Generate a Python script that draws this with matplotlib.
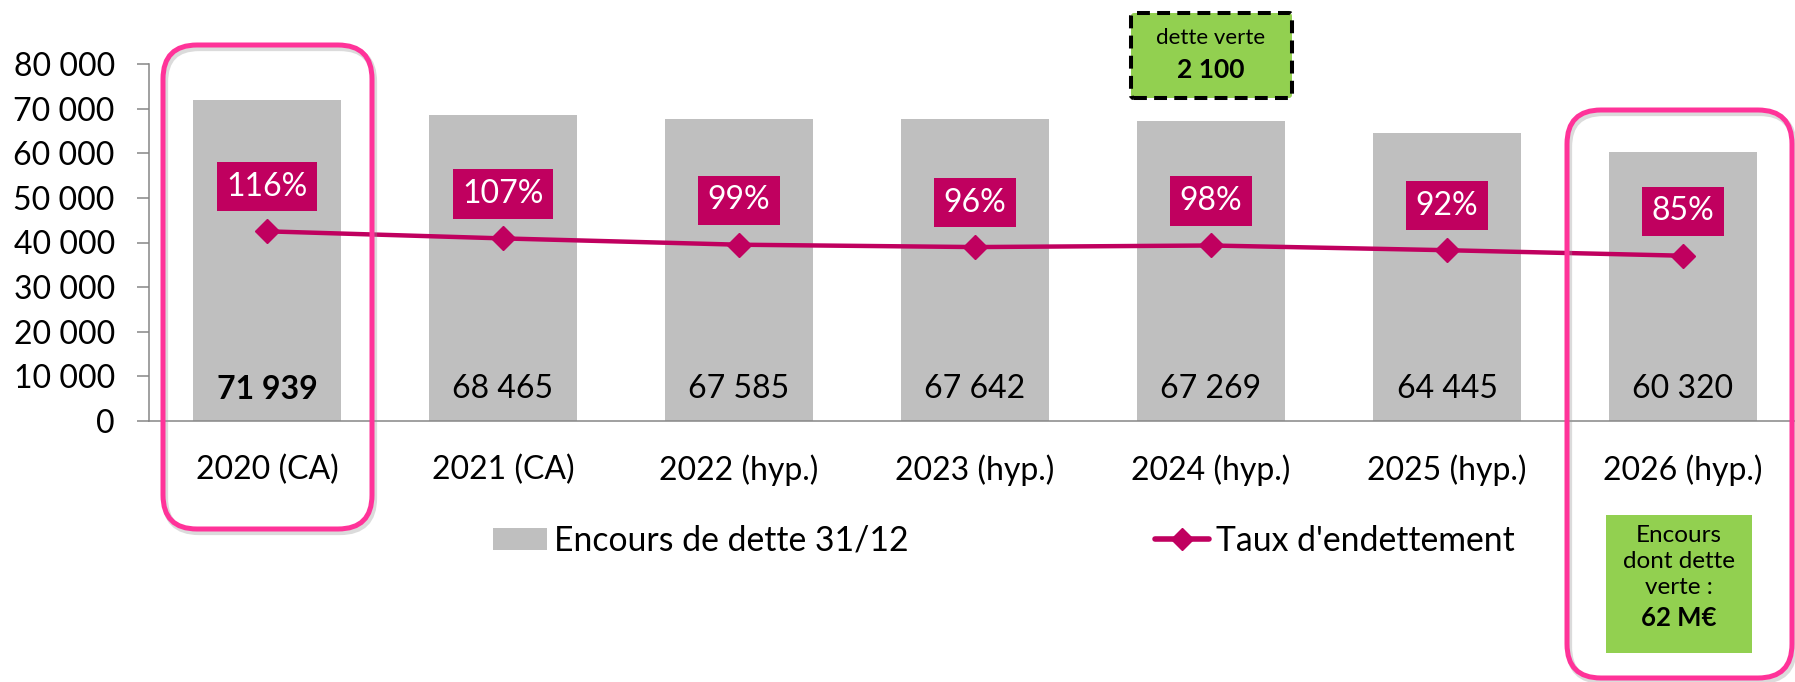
import matplotlib
matplotlib.use("Agg")
import matplotlib.pyplot as plt
from matplotlib.patches import FancyBboxPatch, Patch
from matplotlib.lines import Line2D
from matplotlib.ticker import FuncFormatter, MultipleLocator
from matplotlib.transforms import IdentityTransform

plt.rcParams['font.family'] = ['Lato', 'DejaVu Sans']

# data
years = ["2020 (CA)", "2021 (CA)", "2022 (hyp.)", "2023 (hyp.)",
         "2024 (hyp.)", "2025 (hyp.)", "2026 (hyp.)"]
encours = [71939, 68465, 67585, 67642, 67269, 64445, 60320]
taux = [116, 107, 99, 96, 98, 92, 85]
bold_idx = 0
legend_labels = ["Encours de dette 31/12", "Taux d'endettement"]

BAR = "#BFBFBF"
MAGENTA = "#C0005F"
PINK = "#FF3399"
GREEN = "#92D050"
AXIS = "#868686"

W, H = 1795, 682
fig = plt.figure(figsize=(W / 100, H / 100), dpi=100)
ax = fig.add_axes([149 / W, (H - 421) / H, 1652 / W, 357 / H])

def space_thousands(v, pos=None):
    return f"{v:,.0f}".replace(",", " ")

x = list(range(len(years)))
ax.bar(x, encours, width=0.627, color=BAR, zorder=2)
ax.set_xlim(-0.5, 6.5)
ax.set_ylim(0, 80000)
ax.yaxis.set_major_locator(MultipleLocator(10000))
ax.yaxis.set_major_formatter(FuncFormatter(space_thousands))
ax.set_xticks(x)
ax.set_xticklabels(years)
ax.tick_params(axis='y', length=8.6, width=1.1, color=AXIS, labelsize=23, pad=16)
ax.tick_params(axis='x', length=0, labelsize=23, pad=24)
for s in ['top', 'right']:
    ax.spines[s].set_visible(False)
for s in ['left', 'bottom']:
    ax.spines[s].set_color(AXIS)
    ax.spines[s].set_linewidth(1.1)

for i, v in enumerate(encours):
    ax.annotate(space_thousands(v), (i, 0), xytext=(0, 23), textcoords='offset points',
                ha='center', va='center', fontsize=23,
                fontweight='bold' if i == bold_idx else 'normal', zorder=3)

# taux on hidden secondary axis
ax2 = ax.twinx()
ax2.set_ylim(-125, 328.6)
ax2.axis('off')
ax2.plot(x, taux, color=MAGENTA, lw=3.2, marker='D', ms=12, zorder=3)
for i, t in enumerate(taux):
    ax2.annotate(f"{t}%", (i, t), xytext=(0, 32), textcoords='offset points',
                 ha='center', va='center', fontsize=23, color='white',
                 bbox=dict(boxstyle='square,pad=0.3', fc=MAGENTA, ec='none'))

# legend
handles = [Patch(fc=BAR, ec='none'),
           Line2D([], [], color=MAGENTA, lw=4, marker='D', ms=11, solid_capstyle='round')]
fig.legend(handles, legend_labels, loc='center', bbox_to_anchor=(1004 / W, (H - 541) / H),
           ncol=2, frameon=False, fontsize=24.3, handlelength=1.6, handleheight=0.64,
           handletextpad=0.2, columnspacing=7.3, borderpad=0)

# decorations (pixel coords, y from top)
def box(x0, y0, x1, y1, **kw):
    p = FancyBboxPatch((x0, H - y1), x1 - x0, y1 - y0, transform=IdentityTransform(), **kw)
    fig.add_artist(p)

def label(xc, yc, s, **kw):
    fig.text(xc, H - yc, s, transform=IdentityTransform(), ha='center', va='center', **kw)

for (x0, y0, x1, y1) in [(163, 45, 372, 529), (1567, 110, 1792, 678)]:
    box(x0 + 2, y0 + 3, x1 + 2, y1 + 3, boxstyle='round,pad=0,rounding_size=34',
        fc='none', ec='#999999', lw=4.5, alpha=0.35)
    box(x0, y0, x1, y1, boxstyle='round,pad=0,rounding_size=34',
        fc='none', ec=PINK, lw=3.6)

box(1131, 13, 1292, 98, boxstyle='round,pad=0,rounding_size=3',
    fc=GREEN, ec='black', lw=2.9, linestyle=(0, (3.2, 1.8)))
label(1211, 38, "dette verte", fontsize=16)
label(1211, 70, "2 100", fontsize=19, fontweight='bold')

box(1606, 515, 1752, 653, boxstyle='square,pad=0', fc=GREEN, ec='none')
label(1679, 535, "Encours", fontsize=17.5)
label(1679, 561, "dont dette", fontsize=17.5)
label(1679, 587, "verte :", fontsize=17.5)
label(1679, 618, "62 M€", fontsize=18.5, fontweight='bold')

fig.savefig("out.png", dpi=100)
